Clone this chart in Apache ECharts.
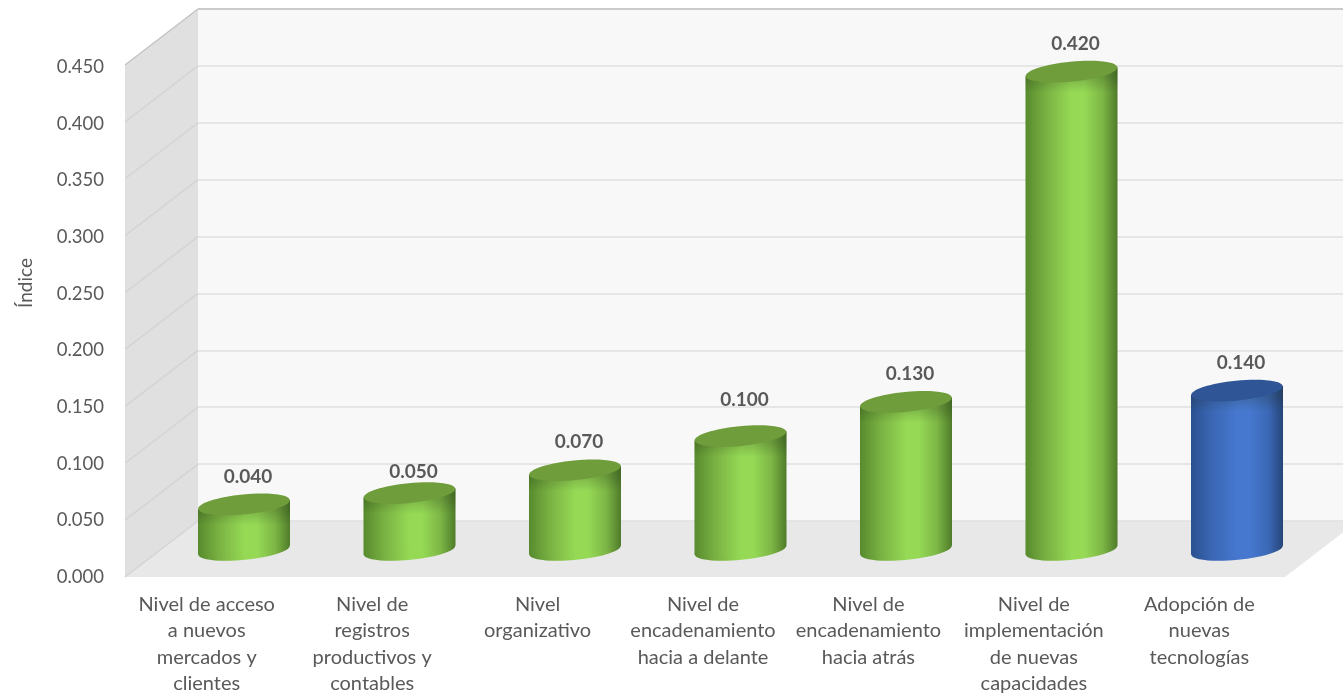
<!DOCTYPE html>
<html><head><meta charset="utf-8">
<style>html,body{margin:0;padding:0;background:#fff}#c{width:1343px;height:694px}</style>
<script src="https://cdn.jsdelivr.net/npm/echarts@6/dist/echarts.min.js"></script>
</head><body><div id="c"></div>
<script>
const categories = [
  "Nivel de acceso\na nuevos\nmercados y\nclientes",
  "Nivel de\nregistros\nproductivos y\ncontables",
  "Nivel\norganizativo",
  "Nivel de\nencadenamiento\nhacia a delante",
  "Nivel de\nencadenamiento\nhacia atrás",
  "Nivel de\nimplementación\nde nuevas\ncapacidades",
  "Adopción de\nnuevas\ntecnologías"
];
const values = [0.04, 0.05, 0.07, 0.10, 0.13, 0.42, 0.14];
const highlighted = [0, 0, 0, 0, 0, 0, 1];
const wallTicks = [0, 0.05, 0.1, 0.15, 0.2, 0.25, 0.3, 0.35, 0.4, 0.45];
const yName = "Índice";
const FONT = "Lato";
const TEXT = "#595959";
const MAXV = 0.45;
const DEPTH = [73, -56];
const LABEL_NUDGE = {1: 7, 3: -8};
const PAL = [
  {e1:"#578a2d", e2:"#79b142", mid:"#95d955", e3:"#7cb545", e4:"#4f7c2a", top:"#6f9d3b"},
  {e1:"#2a5190", e2:"#3a66b3", mid:"#4678cf", e3:"#3b68b6", e4:"#27457a", top:"#2f5597"}
];

function cylinderBody(c) {
  return {type:'linear', x:0, y:0, x2:1, y2:0, colorStops:[
    {offset:0, color:c.e1},{offset:0.22, color:c.e2},
    {offset:0.5, color:c.mid},{offset:0.64, color:c.mid},
    {offset:0.84, color:c.e3},{offset:1, color:c.e4}]};
}
const RIM = {type:'linear', x:0, y:0, x2:0, y2:1, colorStops:[
  {offset:0, color:'rgba(30,40,20,0.28)'},{offset:0.45, color:'rgba(30,40,20,0.2)'},{offset:1, color:'rgba(30,40,20,0)'}]};
function renderCylinder(params, api) {
  const i = api.value(0), v = api.value(1), h = api.value(2);
  const top = api.coord([i, v]), base = api.coord([i, 0]);
  const band = api.size([1, 0])[0];
  const rx = band * 0.278, ry = rx * 0.215, tilt = 0.098, dy = rx * tilt;
  const c = PAL[h];
  const fill = cylinderBody(c);
  const cx = top[0];
  const rimBottom = top[1] + ry * 2.1;
  return {type:'group', children:[
    {type:'ellipse', shape:{cx:0, cy:0, rx, ry}, x:cx, y:base[1], rotation:tilt, style:{fill}},
    {type:'polygon', shape:{points:[[cx-rx,top[1]+dy],[cx+rx,top[1]-dy],[cx+rx,base[1]-dy],[cx-rx,base[1]+dy]]}, style:{fill}},
    {type:'polygon', shape:{points:[[cx-rx,top[1]+dy],[cx+rx,top[1]-dy],[cx+rx,rimBottom],[cx-rx,rimBottom]]}, style:{fill:RIM}},
    {type:'ellipse', shape:{cx:0, cy:0, rx, ry}, x:cx, y:top[1], rotation:tilt, style:{fill:c.top}},
    {type:'text', x:cx+4, y:top[1]-28+(LABEL_NUDGE[i]||0), style:{text:v.toFixed(3), fill:TEXT, font:'bold 19px '+FONT, textAlign:'center', textVerticalAlign:'middle'}}
  ]};
}
function renderWalls(params, api) {
  const b00 = api.coord([0,0]), b10 = api.coord([1,0]), b01 = api.coord([0,MAXV]), b11 = api.coord([1,MAXV]);
  const f = p => [p[0]-DEPTH[0], p[1]-DEPTH[1]];
  return {type:'group', children:[
    {type:'polygon', shape:{points:[b01,b11,b10,b00]}, style:{fill:"#f8f8f8"}},
    {type:'polygon', shape:{points:[f(b01),b01,b00,f(b00)]}, style:{fill:"#e0e0e0"}},
    {type:'polygon', shape:{points:[b00,b10,f(b10),f(b00)]}, style:{fill:"#e8e8e8"}}
  ]};
}
function renderDiagonal(params, api) {
  const v = api.value(0);
  const b = api.coord([0, v]);
  const isTop = v === MAXV;
  return {type:'group', children:[
    {type:'line', shape:{x1:b[0], y1:b[1], x2:b[0]-DEPTH[0], y2:b[1]-DEPTH[1]}, style:{stroke:isTop?"#c4c4c4":"#d4d4d4", lineWidth:1.5}},
    isTop ? {type:'line', shape:{x1:b[0], y1:b[1], x2:api.coord([1,v])[0], y2:b[1]}, style:{stroke:"#c0c0c0", lineWidth:1.5}} : {type:'group'}
  ]};
}
const chart = echarts.init(document.getElementById('c'), null, {renderer:'canvas'});
chart.setOption({
  animation:false,
  backgroundColor:"#fff",
  grid:[
    {left:124, top:67, width:1158, height:510, outerBoundsMode:'none'},
    {left:198, top:9, width:1160, height:512, outerBoundsMode:'none'},
    {left:161.25, top:37.5, width:1158.5, height:512.5, outerBoundsMode:'none'}
  ],
  xAxis:[
    {gridIndex:0, type:'category', data:categories, axisLine:{show:false}, axisTick:{show:false},
     axisLabel:{interval:0, margin:14, color:TEXT, fontFamily:FONT, fontSize:20, lineHeight:26.5, hideOverlap:false}},
    {gridIndex:1, type:'value', min:0, max:1, show:false},
    {gridIndex:2, type:'category', data:categories, show:false}
  ],
  yAxis:[
    {gridIndex:0, type:'value', min:0, max:MAXV, interval:0.05, name:yName, nameLocation:'middle', nameGap:89,
     nameTextStyle:{color:TEXT, fontFamily:FONT, fontSize:19, padding:[0,0,0,78]},
     axisLine:{show:false}, axisTick:{show:false}, splitLine:{show:false},
     axisLabel:{margin:20, color:TEXT, fontFamily:FONT, fontSize:18.5, formatter:v=>v.toFixed(3)}},
    {gridIndex:1, type:'value', min:0, max:MAXV, interval:0.05, z:1, axisLine:{show:false}, axisTick:{show:false}, axisLabel:{show:false},
     splitLine:{show:true, lineStyle:{color:"#e0e0e0", width:1.5}}},
    {gridIndex:2, type:'value', min:0, max:MAXV, show:false}
  ],
  series:[
    {type:'custom', name:'walls', xAxisIndex:1, yAxisIndex:1, z:0, silent:true, renderItem:renderWalls, data:[[0,0]]},
    {type:'custom', name:'gridDepth', xAxisIndex:1, yAxisIndex:1, z:1, silent:true, renderItem:renderDiagonal, data:wallTicks.map(v=>[v]), encode:{y:0}},
    {type:'custom', name:'Índice', xAxisIndex:2, yAxisIndex:2, z:3, silent:true, renderItem:renderCylinder,
     data:values.map((v,i)=>[i,v,highlighted[i]]), encode:{x:0,y:1}}
  ]
});
</script></body></html>
